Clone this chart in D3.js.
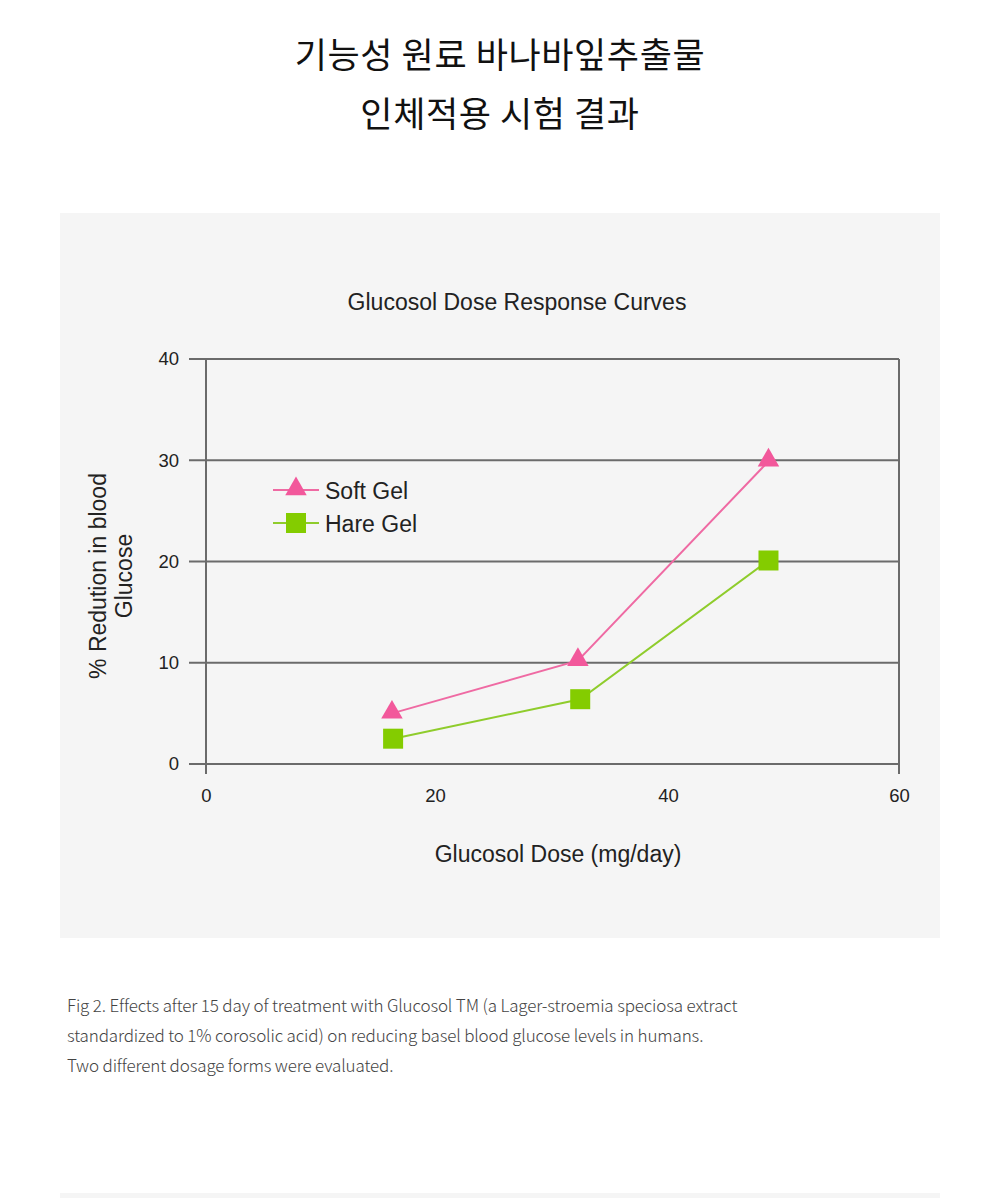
<!DOCTYPE html>
<html><head><meta charset="utf-8">
<script src="https://cdn.jsdelivr.net/npm/d3@7"></script>
<style>
html,body{margin:0;padding:0;background:#fff;}
svg{display:block;}
</style></head>
<body>
<svg id="c" width="1000" height="1198"></svg>
<script>
const titleLines = ["기능성 원료 바나바잎추출물", "인체적용 시험 결과"];
const chartTitle = "Glucosol Dose Response Curves";
const xLabel = "Glucosol Dose (mg/day)";
const yLabelLines = ["% Redution in blood", "Glucose"];
const xTicks = [0, 20, 40, 60];
const yTicks = [0, 10, 20, 30, 40];
const seriesNames = ["Soft Gel", "Hare Gel"];
const softDose = [16.1, 32.2, 48.7];
const softValue = [5.0, 10.2, 29.9];
const hareDose = [16.2, 32.4, 48.7];
const hareValue = [2.5, 6.4, 20.1];
const captionLines = [
  "Fig 2. Effects after 15 day of treatment with Glucosol TM (a Lager-stroemia speciosa extract",
  "standardized to 1% corosolic acid) on reducing basel blood glucose levels in humans.",
  "Two different dosage forms were evaluated."
];

const svg = d3.select("#c");
const latin = "'Liberation Sans', Arial, sans-serif";
const kr = "'Noto Sans CJK KR', sans-serif";
const axisCol = "#6b6b6b";
const pink = "#f2589b", pinkLine = "#ef6aa3";
const green = "#84cc00", greenLine = "#8fcc2c";

// title
svg.selectAll("text.title").data(titleLines).join("text")
  .attr("x", 500).attr("y", (d,i) => 68 + i*59)
  .attr("text-anchor", "middle")
  .attr("font-family", kr).attr("font-size", 35).attr("font-weight", 400)
  .attr("letter-spacing", 0.6)
  .attr("fill", "#111").text(d => d);

// panel
svg.append("rect").attr("x", 60).attr("y", 213).attr("width", 880).attr("height", 725).attr("fill", "#f5f5f5");
svg.append("rect").attr("x", 60).attr("y", 1193).attr("width", 880).attr("height", 5).attr("fill", "#f5f5f5");

const x = d3.scaleLinear().domain([0, 60]).range([206, 899]);
const y = d3.scaleLinear().domain([0, 40]).range([764, 359]);

svg.append("text").attr("x", 517).attr("y", 310).attr("text-anchor", "middle")
  .attr("font-family", latin).attr("font-size", 23).attr("fill", "#222").text(chartTitle);

// gridlines
const yAxis = d3.axisLeft(y).tickValues(yTicks).tickSize(0).tickPadding(0).tickFormat(d3.format("d"));
svg.append("g").selectAll("line.grid").data(yTicks).join("line")
  .attr("x1", 189).attr("x2", x(60)).attr("y1", d => y(d)).attr("y2", d => y(d))
  .attr("stroke", axisCol).attr("stroke-width", 2);
const gyl = svg.append("g").attr("transform", "translate(179,0)").call(yAxis);
gyl.select(".domain").remove();
gyl.selectAll("text").attr("font-family", latin).attr("font-size", 18.5).attr("fill", "#222").attr("dy", "0.32em");

// vertical axis lines
[0, 60].forEach(v => {
  svg.append("line").attr("x1", x(v)).attr("x2", x(v)).attr("y1", y(40)).attr("y2", y(0) + 10)
    .attr("stroke", axisCol).attr("stroke-width", 2);
});

const xAxis = d3.axisBottom(x).tickValues(xTicks).tickSize(0).tickPadding(0);
const gx = svg.append("g").attr("transform", "translate(0,789)").call(xAxis);
gx.select(".domain").remove();
gx.selectAll("text").attr("font-family", latin).attr("font-size", 18.5).attr("fill", "#222").attr("dy", "0.71em")
  .attr("dx", (d) => d === 20 ? -2 : 0);

svg.append("text").attr("x", 558).attr("y", 862).attr("text-anchor", "middle")
  .attr("font-family", latin).attr("font-size", 23).attr("fill", "#222").text(xLabel);

svg.append("text").attr("transform", "translate(106,576) rotate(-90)")
  .attr("text-anchor", "middle").attr("font-family", latin).attr("font-size", 23).attr("fill", "#222")
  .selectAll("tspan").data(yLabelLines).join("tspan")
  .attr("x", 0).attr("dy", (d,i) => i ? 26 : 0).text(d => d);

const line = d3.line().x(d => x(d[0])).y(d => y(d[1]));
const soft = softDose.map((d,i) => [d, softValue[i]]);
const hare = hareDose.map((d,i) => [d, hareValue[i]]);

svg.append("path").datum(soft).attr("d", line).attr("fill", "none").attr("stroke", pinkLine).attr("stroke-width", 2);
svg.append("path").datum(hare).attr("d", line).attr("fill", "none").attr("stroke", greenLine).attr("stroke-width", 2);

const tri = d3.symbol().type(d3.symbolTriangle).size(200);
svg.selectAll("path.tri").data(soft).join("path")
  .attr("transform", d => `translate(${x(d[0])},${y(d[1]) - 1})`).attr("d", tri).attr("fill", pink);
svg.selectAll("rect.sq").data(hare).join("rect")
  .attr("x", d => x(d[0]) - 10).attr("y", d => y(d[1]) - 10).attr("width", 20).attr("height", 20).attr("fill", green);

// legend
const leg = [
  {name: seriesNames[0], yy: 490, col: pinkLine, mk: "tri"},
  {name: seriesNames[1], yy: 523, col: greenLine, mk: "sq"}
];
leg.forEach(l => {
  svg.append("line").attr("x1", 273).attr("x2", 319).attr("y1", l.yy).attr("y2", l.yy).attr("stroke", l.col).attr("stroke-width", 2);
  if (l.mk === "tri") svg.append("path").attr("transform", `translate(296,${l.yy - 1})`).attr("d", tri).attr("fill", pink);
  else svg.append("rect").attr("x", 286).attr("y", l.yy - 10).attr("width", 20).attr("height", 20).attr("fill", green);
  svg.append("text").attr("x", 325).attr("y", l.yy + 9).attr("font-family", latin).attr("font-size", 23).attr("fill", "#222").text(l.name);
});

// caption
svg.selectAll("text.cap").data(captionLines).join("text")
  .attr("x", 67).attr("y", (d,i) => 1012 + i*30)
  .attr("font-family", kr).attr("font-size", 17).attr("font-weight", 300)
  .attr("letter-spacing", -0.15).attr("fill", "#444").text(d => d);
</script>
</body></html>
